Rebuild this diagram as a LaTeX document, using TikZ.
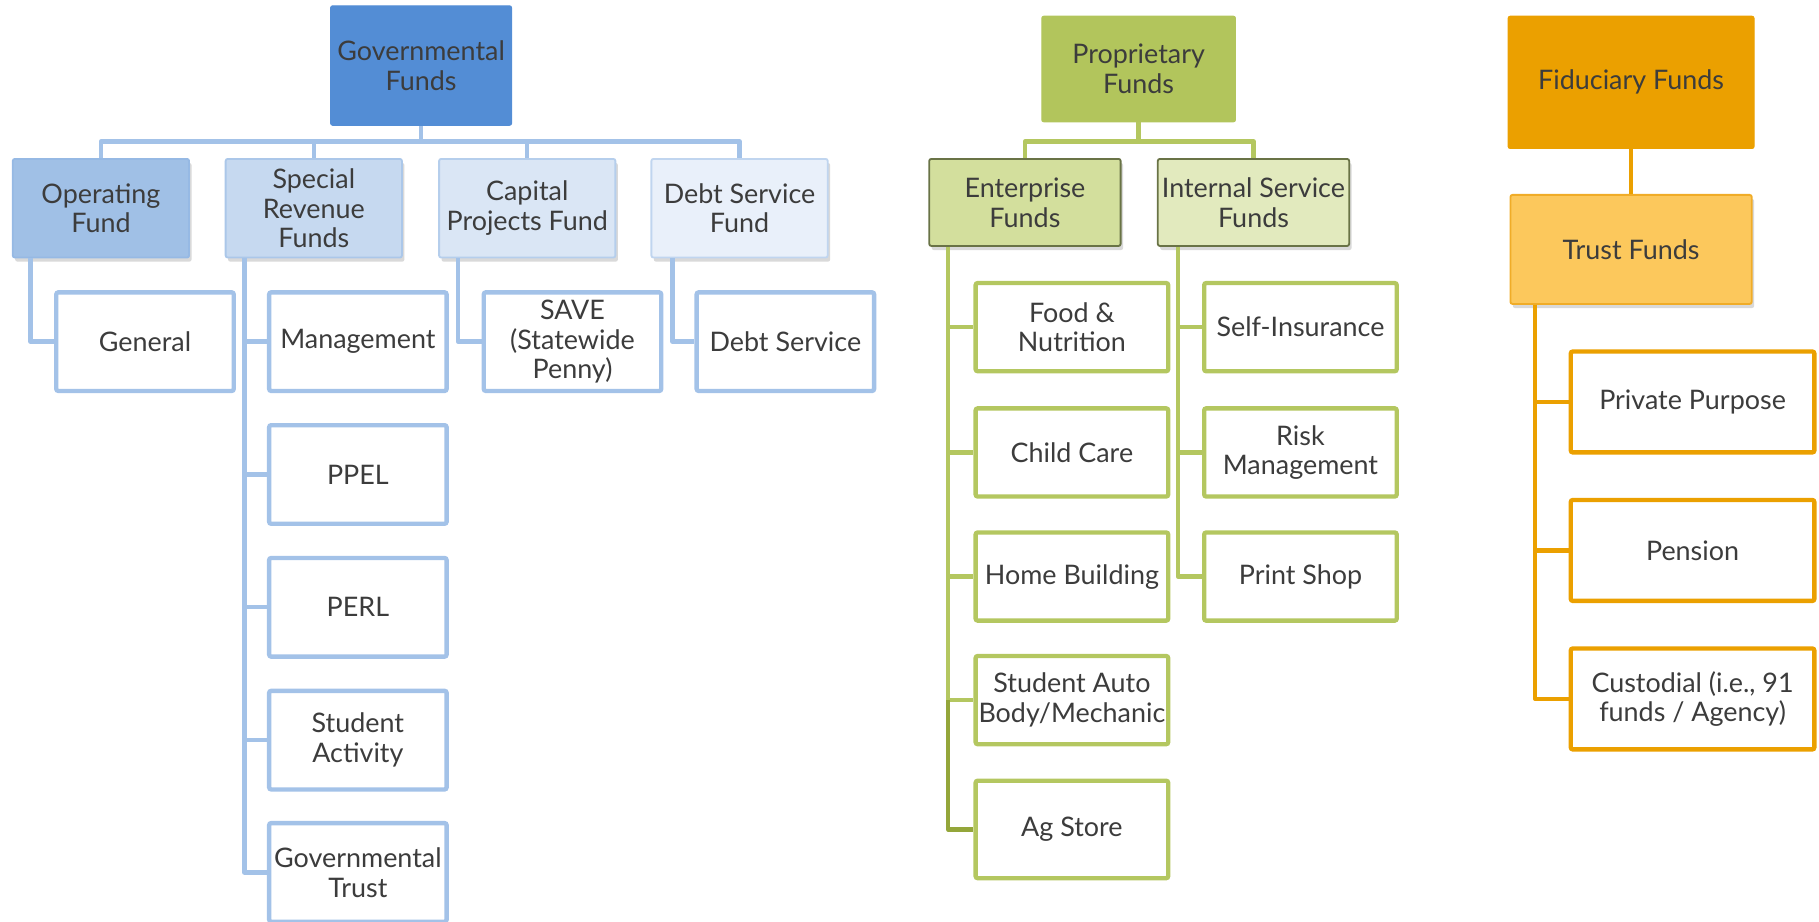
\documentclass[tikz,border=0pt]{standalone}
\usepackage{fontspec}
\setmainfont{Lato}
\usetikzlibrary{shadows,calc}
\definecolor{txt}{RGB}{60,60,60}
\definecolor{bTop}{RGB}{83,141,213}
\definecolor{bOp}{RGB}{160,192,230}
\definecolor{bSr}{RGB}{198,217,240}
\definecolor{bCp}{RGB}{218,230,245}
\definecolor{bDs}{RGB}{233,240,250}
\definecolor{bLine}{RGB}{163,194,232}
\definecolor{bEdge}{RGB}{150,185,228}
\definecolor{gTop}{RGB}{178,197,92}
\definecolor{gEnt}{RGB}{211,223,157}
\definecolor{gInt}{RGB}{226,234,190}
\definecolor{gLine}{RGB}{180,199,96}
\definecolor{gDark}{RGB}{148,166,58}
\definecolor{gEdge}{RGB}{105,115,70}
\definecolor{oTop}{RGB}{235,160,0}
\definecolor{oTrust}{RGB}{252,200,92}
\definecolor{oLine}{RGB}{235,160,0}
\definecolor{oEdge}{RGB}{240,172,40}
\begin{document}
\begin{tikzpicture}[x=0.02cm,y=-0.02cm,
  font=\fontsize{13.2}{14.6}\selectfont,
  every node/.style={text=txt,align=center,inner sep=1pt,rounded corners=1pt},
  topbox/.style={fill=#1,draw=#1,line width=0.5pt},
  midbox/.style={fill=#1,line width=0.9pt,drop shadow={shadow xshift=1.2pt,shadow yshift=-2pt,opacity=0.25,fill=black!60}},
  leafbox/.style={fill=white,draw=#1,line width=0.075cm},
  conn/.style={draw=#1,line width=0.075cm,line join=round},
  gsz/.style={minimum width=3.06cm,minimum height=1.7cm},
  psz/.style={minimum width=3.32cm,minimum height=1.52cm},
  fsz/.style={minimum width=4.2cm,minimum height=1.74cm}]
\useasboundingbox (0,0) rectangle (1568,794);
% ---------------- Governmental ----------------
\node[topbox=bTop,minimum width=3.12cm,minimum height=2.06cm] (gov) at (363,56.5) {Governmental\\Funds};
\node[midbox=bOp,draw=bEdge,minimum width=3.04cm,minimum height=1.7cm] (op) at (87,179.5) {Operating\\Fund};
\node[midbox=bSr,draw=bEdge!80,minimum width=3.04cm,minimum height=1.7cm] (sr) at (270.5,179.5) {Special\\Revenue\\Funds};
\node[midbox=bCp,draw=bEdge!70,minimum width=3.04cm,minimum height=1.7cm] (cp) at (454.5,179.5) {Capital\\Projects Fund};
\node[midbox=bDs,draw=bEdge!60,minimum width=3.04cm,minimum height=1.7cm] (ds) at (637.5,179.5) {Debt Service\\Fund};
\node[leafbox=bLine,gsz] (gen) at (125,294.5) {General};
\node[leafbox=bLine,gsz] (mgmt) at (308.5,294.5) {Management};
\node[leafbox=bLine,gsz] (save) at (493.5,294.5) {SAVE\\(Statewide\\Penny)};
\node[leafbox=bLine,gsz] (dsv) at (677,294.5) {Debt Service};
\node[leafbox=bLine,gsz] (ppel) at (308.5,409) {PPEL};
\node[leafbox=bLine,gsz] (perl) at (308.5,523.5) {PERL};
\node[leafbox=bLine,gsz] (sact) at (308.5,638) {Student\\Activity};
\node[leafbox=bLine,gsz] (gtr) at (308.5,752) {Governmental\\Trust};
\coordinate (gbus) at (0,122);
\draw[conn=bLine] (gov.south) -- (gov.south |- gbus) -| (op.north);
\draw[conn=bLine] (gov.south |- gbus) -| (sr.north);
\draw[conn=bLine] (gov.south |- gbus) -| (cp.north);
\draw[conn=bLine] (gov.south |- gbus) -| (ds.north);
\coordinate (opv) at ($(op.south west)+(16,0)$);
\coordinate (srv) at ($(sr.south west)+(17,0)$);
\coordinate (cpv) at ($(cp.south west)+(17,0)$);
\coordinate (dsv0) at ($(ds.south west)+(19,0)$);
\draw[conn=bLine] (opv) |- (gen.west);
\draw[conn=bLine] (srv) |- (mgmt.west);
\draw[conn=bLine] (srv) |- (ppel.west);
\draw[conn=bLine] (srv) |- (perl.west);
\draw[conn=bLine] (srv) |- (sact.west);
\draw[conn=bLine] (srv) |- (gtr.west);
\draw[conn=bLine] (cpv) |- (save.west);
\draw[conn=bLine] (dsv0) |- (dsv.west);
% ---------------- Proprietary ----------------
\node[topbox=gTop,minimum width=3.34cm,minimum height=1.82cm] (prop) at (981.5,59.5) {Proprietary\\Funds};
\node[midbox=gEnt,draw=gEdge,minimum width=3.3cm,minimum height=1.5cm] (ent) at (883.5,174.5) {Enterprise\\Funds};
\node[midbox=gInt,draw=gEdge,minimum width=3.3cm,minimum height=1.5cm] (isf) at (1080.5,174.5) {Internal Service\\Funds};
\node[leafbox=gLine,psz] (food) at (924,282) {Food \&\\Nutrition};
\node[leafbox=gLine,psz] (child) at (924,390) {Child Care};
\node[leafbox=gLine,psz] (home) at (924,497) {Home Building};
\node[leafbox=gLine,psz] (auto) at (924,603.5) {Student Auto\\Body/Mechanic};
\node[leafbox=gLine,minimum width=3.32cm,minimum height=1.68cm] (ag) at (924,715) {Ag Store};
\node[leafbox=gLine,psz] (self) at (1121,282) {Self-Insurance};
\node[leafbox=gLine,psz] (risk) at (1121,390) {Risk\\Management};
\node[leafbox=gLine,psz] (print) at (1121,497) {Print Shop};
\coordinate (pbus) at (0,122);
\draw[conn=gLine] (prop.south) -- (prop.south |- pbus) -| (ent.north);
\draw[conn=gLine] (prop.south |- pbus) -| (isf.north);
\coordinate (entv) at ($(ent.south west)+(17,0)$);
\coordinate (isfv) at ($(isf.south west)+(18,0)$);
\draw[conn=gLine] (entv) |- (food.west);
\draw[conn=gLine] (entv) |- (child.west);
\draw[conn=gLine] (entv) |- (home.west);
\draw[conn=gLine] (entv) |- (auto.west);
\draw[conn=gDark] (entv |- auto.west) |- (ag.west);
\draw[conn=gLine] (isfv) |- (self.west);
\draw[conn=gLine] (isfv) |- (risk.west);
\draw[conn=gLine] (isfv) |- (print.west);
% ---------------- Fiduciary ----------------
\node[topbox=oTop,minimum width=4.24cm,minimum height=2.28cm] (fid) at (1406,71) {Fiduciary Funds};
\node[midbox=oTrust,draw=oEdge,minimum width=4.16cm,minimum height=1.88cm] (trust) at (1406,215) {Trust Funds};
\node[leafbox=oLine,fsz] (priv) at (1459,346.5) {Private Purpose};
\node[leafbox=oLine,fsz] (pens) at (1459,474.5) {Pension};
\node[leafbox=oLine,fsz] (cust) at (1459,602.5) {Custodial (i.e., 91\\funds / Agency)};
\draw[conn=oLine] (fid.south) -- (trust.north);
\coordinate (trv) at ($(trust.south west)+(22,0)$);
\draw[conn=oLine] (trv) |- (priv.west);
\draw[conn=oLine] (trv) |- (pens.west);
\draw[conn=oLine] (trv) |- (cust.west);
\end{tikzpicture}
\end{document}
